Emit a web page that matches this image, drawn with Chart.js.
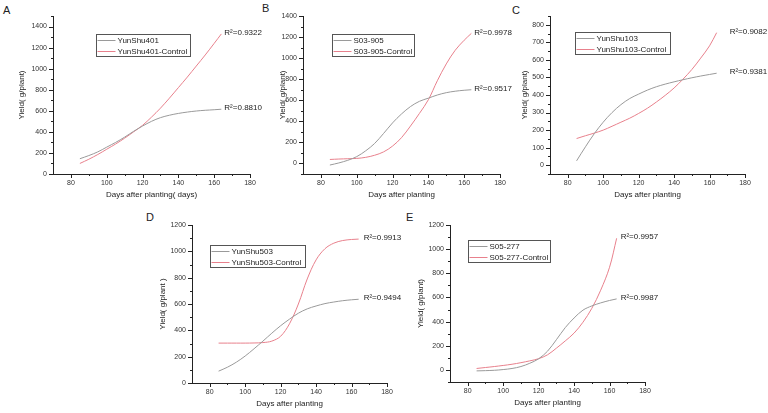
<!DOCTYPE html>
<html lang="en">
<head>
    <meta charset="UTF-8">
    <title>Yield growth curves</title>
    <script src="https://cdn.jsdelivr.net/npm/chart.js"></script>
    <style>
        body { margin: 0; width: 768px; height: 413px; background: #fff; position: relative; overflow: hidden;
               font-family: "Liberation Sans", Arial, sans-serif; }
        canvas { position: absolute; }
        .tag { position: absolute; font-size: 11px; line-height: 1; color: #222; }
    </style>
</head>
<body>
    <div class="tag" style="left:3px;top:5px">A</div>
    <div class="tag" style="left:262px;top:3px">B</div>
    <div class="tag" style="left:512px;top:5px">C</div>
    <div class="tag" style="left:146px;top:212px">D</div>
    <div class="tag" style="left:406px;top:212px">E</div>

    <canvas id="chartA"></canvas>
    <canvas id="chartB"></canvas>
    <canvas id="chartC"></canvas>
    <canvas id="chartD"></canvas>
    <canvas id="chartE"></canvas>

    <script>
        // days after planting where the fitted curves were read
        const days = [85, 90, 95, 100, 105, 110, 115, 120, 125, 130, 135, 140, 145, 150, 155, 160, 164];

        // A
        const yunShu401        = [145, 175, 210, 255, 300, 350, 405, 455, 500, 535, 558, 575, 588, 598, 605, 610, 615];
        const yunShu401Control = [100, 140, 185, 235, 285, 340, 400, 462, 540, 625, 720, 820, 920, 1025, 1130, 1240, 1330];
        // B
        const s03905        = [-15, 5, 30, 65, 120, 190, 285, 385, 470, 540, 590, 620, 650, 672, 686, 695, 700];
        const s03905Control = [38, 42, 45, 48, 58, 78, 110, 165, 245, 355, 475, 605, 785, 945, 1075, 1170, 1235];
        // C
        const yunShu103        = [25, 105, 180, 245, 300, 345, 380, 405, 428, 447, 462, 475, 487, 498, 508, 517, 524];
        const yunShu103Control = [152, 168, 183, 200, 222, 245, 268, 295, 325, 360, 398, 440, 490, 545, 610, 680, 755];
        // D
        const yunShu503        = [90, 120, 158, 205, 260, 318, 378, 435, 485, 530, 563, 585, 603, 615, 625, 632, 636];
        const yunShu503Control = [303, 303, 303, 303, 304, 307, 318, 355, 450, 600, 790, 935, 1020, 1062, 1082, 1090, 1093];
        // E
        const s05277        = [-8, -6, -3, 3, 12, 28, 55, 92, 155, 250, 350, 430, 495, 530, 555, 575, 588];
        const s05277Control = [12, 20, 28, 37, 47, 60, 75, 93, 125, 180, 240, 305, 395, 510, 660, 850, 1090];

        const r2A = ['0.8810', '0.9322'];
        const r2B = ['0.9517', '0.9978'];
        const r2C = ['0.9381', '0.9082'];
        const r2D = ['0.9494', '0.9913'];
        const r2E = ['0.9987', '0.9957'];

        const GRAY = '#9a9a9a';
        const RED = '#e8808c';
        const FONT = 'Liberation Sans';

        const panels = [
            { id: 'chartA', names: ['YunShu401', 'YunShu401-Control'], series: [yunShu401, yunShu401Control], r2: r2A,
              yMin: 0, yMax: 1500, yStep: 100, yMajor: 200,
              xTitle: 'Days after planting( days)', yTitle: 'Yield( g/plant)',
              box: { l: 53, t: 16, w: 197, h: 158 }, yGap: 31, legend: { dx: 43, dy: 18, w: 94 }, r2dx: 3 },
            { id: 'chartB', names: ['S03-905', 'S03-905-Control'], series: [s03905, s03905Control], r2: r2B,
              yMin: -100, yMax: 1400, yStep: 100, yMajor: 200,
              xTitle: 'Days after planting', yTitle: 'Yield( g/plant)',
              box: { l: 303, t: 16, w: 197, h: 158 }, yGap: 20, legend: { dx: 29, dy: 18, w: 82 }, r2dx: 3 },
            { id: 'chartC', names: ['YunShu103', 'YunShu103-Control'], series: [yunShu103, yunShu103Control], r2: r2C,
              yMin: -50, yMax: 850, yStep: 50, yMajor: 100,
              xTitle: 'Days after planting', yTitle: 'Yield( g/plant)',
              box: { l: 550, t: 16, w: 195, h: 158 }, yGap: 25, legend: { dx: 25, dy: 16, w: 95 }, r2dx: 13 },
            { id: 'chartD', names: ['YunShu503', 'YunShu503-Control'], series: [yunShu503, yunShu503Control], r2: r2D,
              yMin: 0, yMax: 1200, yStep: 100, yMajor: 200,
              xTitle: 'Days after planting', yTitle: 'Yield( g/plant )',
              box: { l: 192, t: 225, w: 195, h: 158 }, yGap: 29, legend: { dx: 18, dy: 20, w: 95 }, r2dx: 5 },
            { id: 'chartE', names: ['S05-277', 'S05-277-Control'], series: [s05277, s05277Control], r2: r2E,
              yMin: -100, yMax: 1200, yStep: 100, yMajor: 200,
              xTitle: 'Days after planting', yTitle: 'Yield( g/plant)',
              box: { l: 450, t: 225, w: 195, h: 157 }, yGap: 29, legend: { dx: 18, dy: 15, w: 82 }, r2dx: 4 }
        ];

        // small outward tick marks, long on labelled values
        const tickMarks = {
            id: 'tickMarks',
            afterDraw(chart, args, opts) {
                const { ctx, scales: { x, y } } = chart;
                ctx.save();
                ctx.strokeStyle = '#222';
                ctx.lineWidth = 1;
                ctx.beginPath();
                x.ticks.forEach(t => {
                    if (t.value === x.min) return;
                    const px = Math.round(x.getPixelForValue(t.value)) + 0.5;
                    const len = t.value % 20 === 0 ? 4 : 2;
                    ctx.moveTo(px, x.top);
                    ctx.lineTo(px, x.top + len);
                });
                y.ticks.forEach(t => {
                    const py = Math.round(y.getPixelForValue(t.value)) + 0.5;
                    const len = t.value % opts.yMajor === 0 ? 4 : 2;
                    ctx.moveTo(y.right, py);
                    ctx.lineTo(y.right - len, py);
                });
                ctx.stroke();
                ctx.restore();
            }
        };

        // boxed legend inside the plot
        const boxLegend = {
            id: 'boxLegend',
            afterDraw(chart, args, opts) {
                const { ctx, chartArea } = chart;
                const left = Math.round(chartArea.left + opts.dx) + 0.5;
                const top = Math.round(chartArea.top + opts.dy) + 0.5;
                ctx.save();
                ctx.fillStyle = '#fff';
                ctx.fillRect(left, top, opts.w, 22);
                ctx.strokeStyle = '#555';
                ctx.lineWidth = 1;
                ctx.strokeRect(left, top, opts.w, 22);
                ctx.font = '8px "' + FONT + '"';
                ctx.textBaseline = 'middle';
                chart.data.datasets.forEach((ds, i) => {
                    const ry = Math.round(top + 5 + i * 11.5) + 0.5;
                    ctx.strokeStyle = ds.borderColor;
                    ctx.beginPath();
                    ctx.moveTo(left + 1, ry);
                    ctx.lineTo(left + 19, ry);
                    ctx.stroke();
                    ctx.fillStyle = '#222';
                    ctx.fillText(ds.label, left + 21, ry);
                });
                ctx.restore();
            }
        };

        // R² text at the end of each curve
        const r2Labels = {
            id: 'r2Labels',
            afterDatasetsDraw(chart, args, opts) {
                const { ctx } = chart;
                ctx.save();
                ctx.font = '8px "' + FONT + '"';
                ctx.fillStyle = '#222';
                ctx.textBaseline = 'middle';
                chart.data.datasets.forEach((ds, i) => {
                    const pts = chart.getDatasetMeta(i).data;
                    const last = pts[pts.length - 1];
                    ctx.fillText('R²=' + opts.values[i], last.x + opts.dx, last.y - 1);
                });
                ctx.restore();
            }
        };

        const Y_AXIS_W = 50, X_AXIS_H = 36, PAD_TOP = 14, PAD_RIGHT = 50;
        const lh = 8 * 1.2;

        panels.forEach(p => {
            const canvas = document.getElementById(p.id);
            canvas.width = p.box.w + Y_AXIS_W + PAD_RIGHT;
            canvas.height = p.box.h + PAD_TOP + X_AXIS_H;
            canvas.style.left = (p.box.l - Y_AXIS_W) + 'px';
            canvas.style.top = (p.box.t - PAD_TOP) + 'px';

            new Chart(canvas, {
                type: 'line',
                data: {
                    datasets: p.series.map((vals, i) => ({
                        label: p.names[i],
                        data: days.map((d, k) => ({ x: d, y: vals[k] })),
                        borderColor: i === 0 ? GRAY : RED,
                        borderWidth: 1,
                        pointRadius: 0,
                        fill: false,
                        tension: 0.35
                    }))
                },
                options: {
                    responsive: false,
                    animation: false,
                    devicePixelRatio: 1,
                    layout: { padding: { left: 0, top: PAD_TOP, right: PAD_RIGHT, bottom: 0 } },
                    scales: {
                        x: {
                            type: 'linear',
                            min: 70,
                            max: 180,
                            grid: { display: false, drawTicks: false, tickLength: 0 },
                            border: { display: true, color: '#222', width: 1 },
                            ticks: {
                                stepSize: 10,
                                autoSkip: false,
                                maxRotation: 0,
                                padding: 5,
                                color: '#333',
                                font: { family: FONT, size: 7 },
                                callback: v => (v % 20 === 0 && v >= 80) ? v : ''
                            },
                            title: {
                                display: true,
                                text: p.xTitle,
                                color: '#222',
                                font: { family: FONT, size: 8 },
                                padding: { top: 0, bottom: 15 - lh / 2 }
                            },
                            afterFit: s => { s.height = X_AXIS_H; }
                        },
                        y: {
                            min: p.yMin,
                            max: p.yMax,
                            grid: { display: false, drawTicks: false, tickLength: 0 },
                            border: { display: true, color: '#222', width: 1 },
                            ticks: {
                                stepSize: p.yStep,
                                autoSkip: false,
                                padding: 6,
                                color: '#333',
                                font: { family: FONT, size: 7 },
                                callback: v => (v % p.yMajor === 0 && v >= 0) ? v : ''
                            },
                            title: {
                                display: true,
                                text: p.yTitle,
                                color: '#222',
                                font: { family: FONT, size: 8 },
                                padding: { top: Y_AXIS_W - p.yGap - lh / 2, bottom: 0 }
                            },
                            afterFit: s => { s.width = Y_AXIS_W; }
                        }
                    },
                    plugins: {
                        legend: { display: false },
                        tooltip: { enabled: false },
                        tickMarks: { yMajor: p.yMajor },
                        boxLegend: p.legend,
                        r2Labels: { values: p.r2, dx: p.r2dx }
                    }
                },
                plugins: [tickMarks, r2Labels, boxLegend]
            });
        });
    </script>
</body>
</html>
